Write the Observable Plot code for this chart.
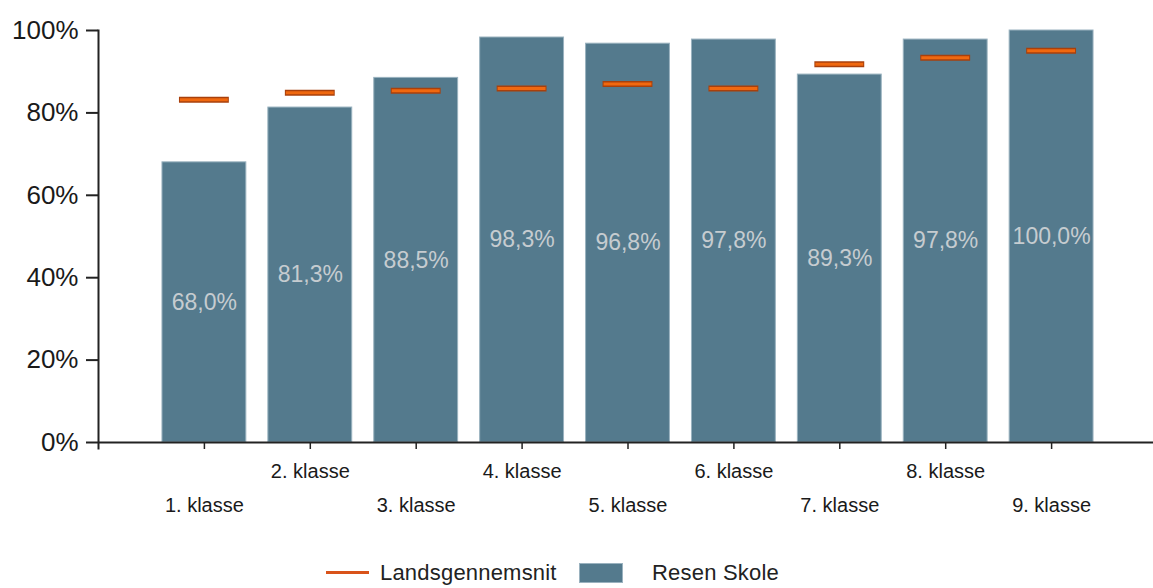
<!DOCTYPE html>
<html>
<head>
<meta charset="utf-8">
<script src="https://cdn.jsdelivr.net/npm/d3@7"></script>
<script src="https://cdn.jsdelivr.net/npm/@observablehq/plot@0.6"></script>
<style>
  html, body { margin: 0; padding: 0; background: #fff; }
  #wrap { position: relative; width: 1153px; height: 588px; font-family: "Liberation Sans", Arial, sans-serif; overflow: hidden; }
  #legend { position: absolute; left: 0; top: 548px; width: 1153px; height: 40px; }
  .lg { position: absolute; font-size: 22px; color: #222; line-height: 24px; }
</style>
</head>
<body>
<div id="wrap">
  <div id="chart"></div>
  <div id="legend">
    <div style="position:absolute;left:326px;top:23px;width:43px;height:3px;background:#d9531a;"></div>
    <div class="lg" style="left:380px;top:13px;letter-spacing:0.2px;">Landsgennemsnit</div>
    <div style="position:absolute;left:579px;top:15px;width:44px;height:20px;background:#547a8d;border:1px solid #9ab2bf;box-sizing:border-box;"></div>
    <div class="lg" style="left:652px;top:13px;letter-spacing:0.2px;">Resen Skole</div>
  </div>
</div>
<script>
const categories = ["1. klasse", "2. klasse", "3. klasse", "4. klasse", "5. klasse", "6. klasse", "7. klasse", "8. klasse", "9. klasse"];
const schoolValues = [68.0, 81.3, 88.5, 98.3, 96.8, 97.8, 89.3, 97.8, 100.0];
const nationalValues = [83.2, 84.9, 85.4, 85.9, 87.0, 85.9, 91.8, 93.4, 95.1];
const yTicks = [0, 20, 40, 60, 80, 100];

const school = categories.map((c, i) => ({cat: c, v: schoolValues[i], row: i % 2}));
const national = categories.map((c, i) => ({cat: c, v: nationalValues[i]}));

const font = "Liberation Sans, Arial, sans-serif";

const chart = Plot.plot({
  width: 1153,
  height: 540,
  marginLeft: 98,
  marginRight: 0,
  marginTop: 30,
  marginBottom: 98,
  style: {fontFamily: font, background: "#fff", overflow: "visible"},
  x: {type: "band", domain: categories, range: [98, 1157], round: false, paddingInner: 0.208, paddingOuter: 0.604, axis: null},
  y: {domain: [0, 100], axis: null},
  marks: [
    Plot.barY(school, {x: "cat", y: "v", fill: "#547a8d", stroke: "#9ab2bf", strokeWidth: 1}),
    Plot.text(school, {
      x: "cat", y: d => d.v / 2,
      text: d => d.v.toFixed(1).replace(".", ",") + "%",
      fill: "#c6ccd0", fontSize: 23, letterSpacing: "0.2px"
    }),
    Plot.tickY(national, {x: "cat", y: "v", stroke: "#a8400c", strokeWidth: 6, insetLeft: 17, insetRight: 17}),
    Plot.tickY(national, {x: "cat", y: "v", stroke: "#f0680f", strokeWidth: 3, insetLeft: 18, insetRight: 18}),
    Plot.ruleY([0], {stroke: "#222", strokeWidth: 2}),
    Plot.frame({anchor: "left", stroke: "#222", strokeWidth: 2, insetBottom: -6}),
    Plot.axisX({tickSize: 7, tickFormat: () => "", stroke: "#222", strokeWidth: 1.5, label: null}),
    Plot.axisY(yTicks, {
      tickSize: 12, tickPadding: 8, tickFormat: d => d + "%",
      fontSize: 26, fill: "#1a1a1a", stroke: "#222", strokeWidth: 2, label: null
    }),
    Plot.text(school.filter(d => d.row === 1), {
      x: "cat", y: 0, dy: 29, text: "cat", fontSize: 20, fill: "#1a1a1a", letterSpacing: "0.7px"
    }),
    Plot.text(school.filter(d => d.row === 0), {
      x: "cat", y: 0, dy: 63, text: "cat", fontSize: 20, fill: "#1a1a1a", letterSpacing: "0.7px"
    })
  ]
});
document.getElementById("chart").appendChild(chart);
</script>
</body>
</html>
